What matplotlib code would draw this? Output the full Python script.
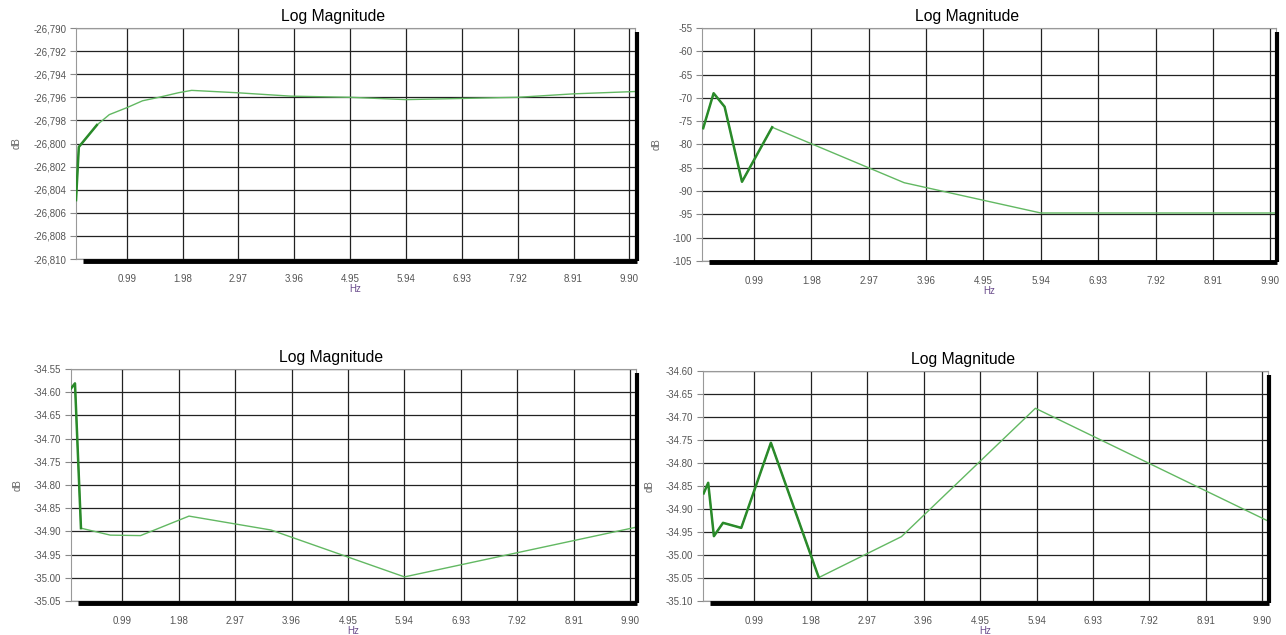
import numpy as np
import matplotlib.pyplot as plt
import matplotlib.transforms as mtransforms
from matplotlib.ticker import FixedLocator, FuncFormatter

plt.rcParams['font.family'] = ['Liberation Sans', 'DejaVu Sans']

# frequency ticks shared by all four panels
x_ticks = [0.99, 1.98, 2.97, 3.96, 4.95, 5.94, 6.93, 7.92, 8.91, 9.90]
x_lim = (0.09, 10.0)

# top left
f1 = [0.09, 0.14, 0.46, 0.68, 0.99, 1.27, 1.56, 1.91, 2.14, 2.93, 3.90, 4.95, 5.94, 6.93, 7.92, 8.91, 10.0]
m1 = [-26.8049, -26.8003, -26.7984, -26.7975, -26.7969, -26.7963, -26.7960, -26.7956, -26.7954,
      -26.7956, -26.7959, -26.7960, -26.7962, -26.7961, -26.7960, -26.7957, -26.7955]
y1_ticks = [-26.790, -26.792, -26.794, -26.796, -26.798, -26.800, -26.802, -26.804, -26.806, -26.808, -26.810]

# top right
f2 = [0.11, 0.29, 0.48, 0.78, 1.30, 3.58, 5.94, 10.0]
m2 = [-76.5, -69.0, -71.9, -88.0, -76.3, -88.2, -94.7, -94.7]
y2_ticks = [-55, -60, -65, -70, -75, -80, -85, -90, -95, -100, -105]

# bottom left
f3 = [0.09, 0.16, 0.265, 0.78, 1.31, 2.16, 3.60, 5.94, 10.0]
m3 = [-34.592, -34.581, -34.893, -34.908, -34.909, -34.867, -34.897, -34.998, -34.891]
y3_ticks = [-34.55, -34.60, -34.65, -34.70, -34.75, -34.80, -34.85, -34.90, -34.95, -35.00, -35.05]

# bottom right
f4 = [0.10, 0.18, 0.28, 0.44, 0.76, 1.28, 2.12, 3.57, 5.92, 10.0]
m4 = [-34.866, -34.843, -34.959, -34.930, -34.941, -34.756, -35.049, -34.960, -34.681, -34.926]
y4_ticks = [-34.60, -34.65, -34.70, -34.75, -34.80, -34.85, -34.90, -34.95, -35.00, -35.05, -35.10]

panels = [
    # data, y ticks, y label format, points drawn heavy, axes rect, x label pad
    (f1, m1, y1_ticks, lambda v, p: '{:.3f}'.format(v).replace('.', ','), 3, [0.0591, 0.5921, 0.4347, 0.3638], 10.5),
    (f2, m2, y2_ticks, lambda v, p: '{:.0f}'.format(v), 5, [0.5459, 0.5890, 0.4463, 0.3669], 10.5),
    (f3, m3, y3_ticks, lambda v, p: '{:.2f}'.format(v), 3, [0.0552, 0.0535, 0.4393, 0.3654], 10.5),
    (f4, m4, y4_ticks, lambda v, p: '{:.2f}'.format(v), 7, [0.5467, 0.0535, 0.4393, 0.3622], 10.5),
]

fig = plt.figure(figsize=(12.86, 6.35), dpi=100)

for f, m, yt, fmt, n_heavy, rect, xpad in panels:
    ax = fig.add_axes(rect)
    ax.plot(f, m, color='#62b862', lw=1.0, zorder=3)
    ax.plot(f[:n_heavy], m[:n_heavy], color='#2a8a2a', lw=1.8, zorder=4)

    ax.set_xlim(*x_lim)
    ax.set_ylim(min(yt), max(yt))
    ax.xaxis.set_major_locator(FixedLocator(x_ticks))
    ax.xaxis.set_major_formatter(FuncFormatter(lambda v, p: '{:.2f}'.format(v)))
    ax.yaxis.set_major_locator(FixedLocator(yt))
    ax.yaxis.set_major_formatter(FuncFormatter(fmt))
    ax.grid(True, color='#222222', lw=0.9, zorder=1)
    ax.tick_params(axis='y', length=4, color='#888888', labelsize=7, labelcolor='#555555', pad=3)
    ax.tick_params(axis='x', length=0, labelsize=7, labelcolor='#555555', pad=xpad)
    for s in ax.spines.values():
        s.set_color('#999999')
        s.set_linewidth(0.8)

    # title sits a little left of the plot centre, as in the source
    w_px = rect[2] * fig.get_figwidth() * fig.dpi
    ax.set_title('Log Magnitude', fontsize=11.3, pad=5, x=0.5 - 22 / w_px)
    ax.set_xlabel('Hz', fontsize=7, color='#6a4c8c', labelpad=0)
    ax.set_ylabel('dB', fontsize=7, color='#666666', labelpad=8)

    # black drop shadow along the bottom and right edges
    shadow = mtransforms.offset_copy(ax.transAxes, fig=fig, x=1.5, y=-1.5, units='dots')
    ax.plot([0.01, 1.0], [0, 0], transform=shadow, color='black', lw=3.5,
            solid_capstyle='butt', clip_on=False, zorder=5)
    ax.plot([1.0, 1.0], [0, 0.99], transform=shadow, color='black', lw=3.0,
            solid_capstyle='butt', clip_on=False, zorder=5)

fig.savefig('out.png', dpi=100)
